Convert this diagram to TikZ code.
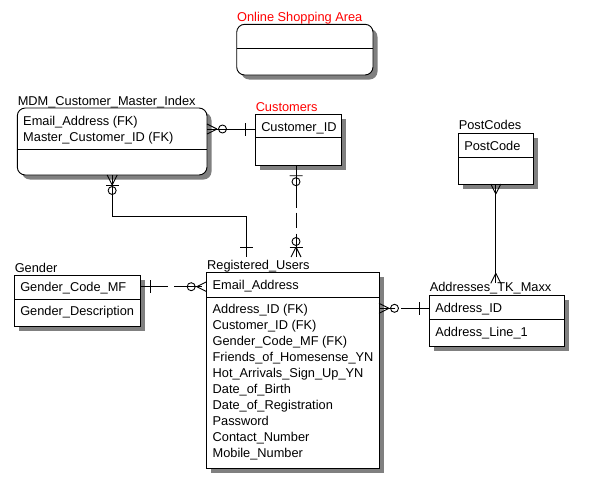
\documentclass[tikz,border=0pt]{standalone}
\usepackage{fontspec}
\setmainfont{Liberation Sans}
\usetikzlibrary{shadows,calc}

\begin{document}
\begin{tikzpicture}[x=1pt, y=-1pt, line width=0.9pt,
  font=\fontsize{12.8}{16}\selectfont,
  entity/.style={draw, fill=white, anchor=north west, inner sep=0pt, outer sep=0pt,
    drop shadow={shadow xshift=4.5pt, shadow yshift=-4.5pt, fill=black!50, opacity=1}},
  roundent/.style={entity, rounded corners=8pt},
  attr/.style={anchor=base west, inner sep=0pt},
  etitle/.style={attr},
  nonid/.style={dash pattern=on 28pt off 6pt},
  pics/one/.style={code={\draw (10,-6.5) -- (10,6.5);}},
  pics/zeroone/.style={code={\draw (10,-6.5) -- (10,6.5) (16,0) circle (4);}},
  pics/many/.style={code={\draw (10,0) -- (0,-5) (10,0) -- (0,5);}},
  pics/zeromany/.style={code={\draw (10,0) -- (0,-5) (10,0) -- (0,5) (15.5,0) circle (4);}}]
\useasboundingbox (0,0) rectangle (589,490);

% entities
\node[roundent, minimum width=136.3pt, minimum height=50.7pt] (osa) at (236.7,24.3) {};
\node[roundent, minimum width=189.7pt, minimum height=67pt] (mdm) at (17.3,108) {};
\node[entity, minimum width=86.4pt, minimum height=51.4pt] (cust) at (255.3,114.3) {};
\node[entity, minimum width=75pt, minimum height=50.7pt] (pc) at (458.3,133.3) {};
\node[entity, minimum width=134.7pt, minimum height=51pt] (addr) at (429.3,295) {};
\node[entity, minimum width=125.7pt, minimum height=51pt] (gen) at (14.3,275.7) {};
\node[entity, minimum width=172.3pt, minimum height=195.6pt] (ru) at (206.7,272.7) {};

% key / attribute dividers
\draw ([yshift=-24pt]osa.north west) -- ([yshift=-24pt]osa.north east);
\draw ([yshift=-41pt]mdm.north west) -- ([yshift=-41pt]mdm.north east);
\draw ([yshift=-23.4pt]cust.north west) -- ([yshift=-23.4pt]cust.north east);
\draw ([yshift=-24pt]pc.north west) -- ([yshift=-24pt]pc.north east);
\draw ([yshift=-24.3pt]addr.north west) -- ([yshift=-24.3pt]addr.north east);
\draw ([yshift=-23.6pt]gen.north west) -- ([yshift=-23.6pt]gen.north east);
\draw ([yshift=-24.3pt]ru.north west) -- ([yshift=-24.3pt]ru.north east);

% titles
\node[etitle, text=red] (osa-t) at ($(osa.north west)+(0,-3.3)$) {Online Shopping Area};
\node[etitle] (mdm-t) at ($(mdm.north west)+(0,-2.5)$) {MDM\_Customer\_Master\_Index};
\node[etitle, text=red] (cust-t) at ($(cust.north west)+(0,-3.3)$) {Customers};
\node[etitle] (pc-t) at ($(pc.north west)+(0,-3.6)$) {PostCodes};
\node[etitle] (addr-t) at ($(addr.north west)+(0,-3.5)$) {Addresses\_TK\_Maxx};
\node[etitle] (gen-t) at ($(gen.north west)+(0,-3.7)$) {Gender};
\node[etitle] (ru-t) at ($(ru.north west)+(0,-3.7)$) {Registered\_Users};

% keys and attributes
\node[attr] (mdm-k1) at ($(mdm.north west)+(5.5,17)$) {Email\_Address (FK)};
\node[attr] (mdm-k2) at ($(mdm.north west)+(5.5,33.5)$) {Master\_Customer\_ID (FK)};
\node[attr] (cust-k1) at ($(cust.north west)+(5.5,16.7)$) {Customer\_ID};
\node[attr] (pc-k1) at ($(pc.north west)+(5.5,16.7)$) {PostCode};
\node[attr] (addr-k1) at ($(addr.north west)+(5.5,17.5)$) {Address\_ID};
\node[attr] (addr-a1) at ($(addr.north west)+(5.5,41.5)$) {Address\_Line\_1};
\node[attr] (gen-k1) at ($(gen.north west)+(5.5,16)$) {Gender\_Code\_MF};
\node[attr] (gen-a1) at ($(gen.north west)+(5.5,39.5)$) {Gender\_Description};
\node[attr] (ru-k1) at ($(ru.north west)+(5.5,16.3)$) {Email\_Address};
\foreach \a [count=\i] in {Address\_ID (FK), Customer\_ID (FK), Gender\_Code\_MF (FK),
    Friends\_of\_Homesense\_YN, Hot\_Arrivals\_Sign\_Up\_YN, Date\_of\_Birth,
    Date\_of\_Registration, Password, Contact\_Number, Mobile\_Number}
  \node[attr] (ru-a\i) at ($(ru.north west)+(5.5,24.3+16*\i)$) {\a};

% relationships
\coordinate (r1a) at (mdm.east |- 0,129);
\coordinate (r1b) at (cust.west |- r1a);
\draw (r1a) -- (r1b);
\pic at (r1a) {zeromany};
\pic[rotate=180] at (r1b) {one};

\coordinate (r2b) at ($(ru.north west)+(40,-15.7)$);
\coordinate (r2k) at (r2b |- 0,216);
\draw (mdm.south) |- (r2k) -- (r2b);
\pic[rotate=-90] at (mdm.south) {zeromany};
\pic[rotate=-90] at (mdm.south) {one};
\pic[rotate=90] at (r2b) {one};

\coordinate (r3a) at ($(cust.south)+(-2.5,0)$);
\coordinate (r3b) at (r3a |- r2b);
\draw[dash pattern=on 42pt off 5pt on 15pt off 6pt] (r3a) -- (r3b);
\pic[rotate=-90] at (r3a) {zeroone};
\pic[rotate=90] at (r3b) {zeromany};
\pic[rotate=90] at (r3b) {one};

\coordinate (r4a) at (gen.east |- 0,286.7);
\coordinate (r4b) at (ru.west |- r4a);
\draw[nonid] (r4a) -- (r4b);
\pic at (r4a) {one};
\pic[rotate=180] at (r4b) {zeromany};

\coordinate (r5a) at (ru.east |- 0,308.3);
\coordinate (r5b) at (addr.west |- r5a);
\draw[nonid] (r5b) -- (r5a);
\pic at (r5a) {zeromany};
\pic[rotate=180] at (r5b) {one};

\coordinate (r6b) at ($(pc.south |- addr.north)+(0,-11.7)$);
\draw (pc.south) -- (r6b);
\pic[rotate=-90] at (pc.south) {many};
\pic[rotate=90] at (r6b) {many};
\end{tikzpicture}
\end{document}
